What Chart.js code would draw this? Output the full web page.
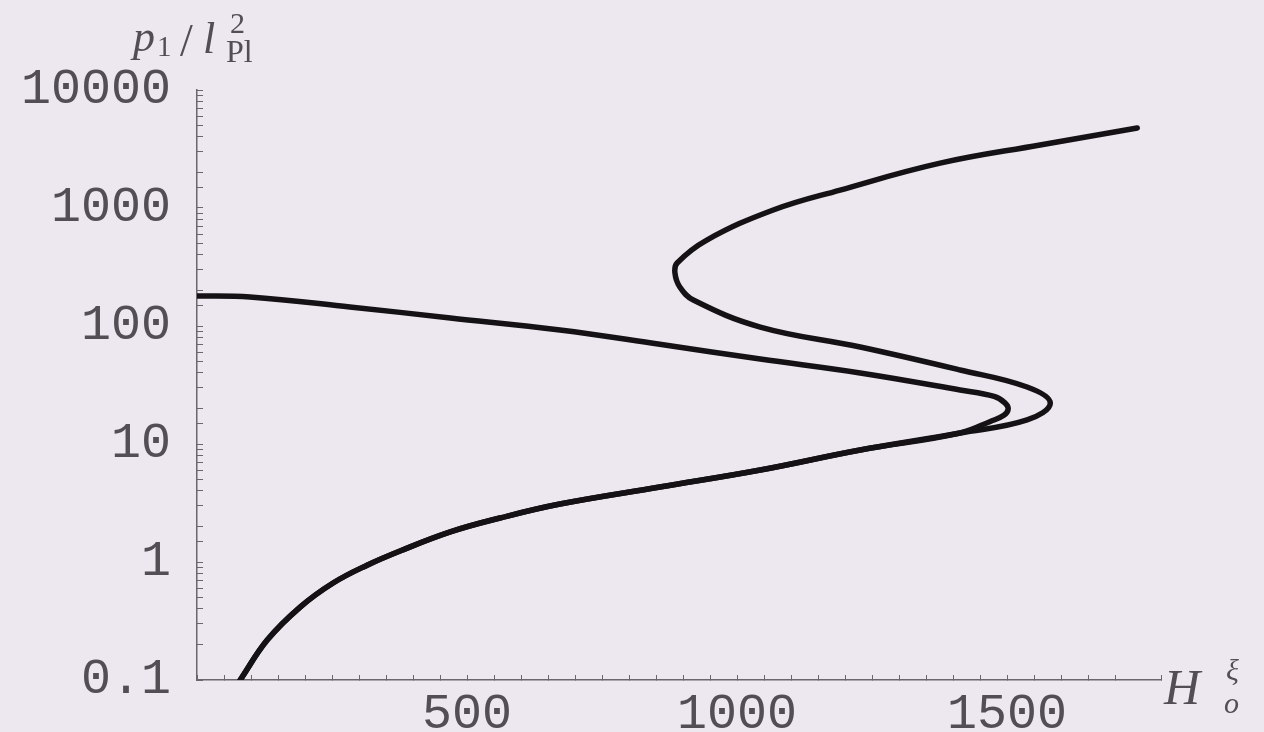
<!DOCTYPE html>
<html>
<head>
<meta charset="utf-8">
<script src="https://cdn.jsdelivr.net/npm/chart.js@4.4.1/dist/chart.umd.min.js"></script>
<style>
  html, body { margin: 0; padding: 0; background: #ede7f0; overflow: hidden; }
  #wrap { width: 1264px; height: 732px; }
  canvas { display: block; }
</style>
</head>
<body>
<div id="wrap"><canvas id="myChart" width="1264" height="732"></canvas></div>
<script>
// --- Data ---
// shared lower branch (both curves start here)
const lowerX = [80, 130, 191, 252, 315, 376, 469, 561, 672, 857, 1043, 1228, 1413];
const lowerY = [0.1, 0.218, 0.415, 0.664, 0.94, 1.24, 1.80, 2.36, 3.10, 4.32, 6.02, 8.9, 12.4];

// inner curve: turns near 1500 and runs back to the axis
const innerX = [1470, 1494, 1502, 1496, 1476, 1413, 1228, 1043, 857, 672, 469, 283, 98, 0];
const innerY = [15.6, 17.5, 19.8, 22.3, 25.3, 28.7, 40, 52.5, 70, 92.5, 117, 145, 176, 180];

// outer curve: turns near 1580, back to ~890, then out to the top right
const outerX = [1537, 1580, 1537, 1413, 1228, 1043, 919, 894, 885, 889, 944, 1067, 1191, 1376, 1561, 1741];
const outerY = [16.0, 22.2, 30.4, 42.4, 66.4, 98, 166, 214, 281, 342, 535, 962, 1420, 2400, 3420, 4760];

// tick labels
const xTickLabels = [500, 1000, 1500];
const yTickLabels = ['0.1', '1', '10', '100', '1000', '10000'];

function toPoints(xs, ys) {
    return xs.map((x, i) => ({ x: x, y: ys[i] }));
}

const innerData = toPoints(lowerX.concat(innerX), lowerY.concat(innerY));
const outerData = toPoints(lowerX.concat(outerX), lowerY.concat(outerY));

const textColor = '#524e54';
const axisColor = '#6a666c';
const tickFont = { family: '"Liberation Mono", monospace', size: 50 };

// axis titles drawn like the original (italic math symbols)
const axisTitles = {
    id: 'axisTitles',
    afterDraw(chart) {
        const c = chart.ctx;
        c.save();
        c.fillStyle = textColor;
        c.textBaseline = 'alphabetic';
        c.textAlign = 'left';
        // p1 / l^2_Pl
        c.font = 'italic 44px "Liberation Serif"';
        c.fillText('p', 133, 51);
        c.font = '29px "Liberation Serif"';
        c.fillText('1', 157, 56);
        c.font = '46px "Liberation Serif"';
        c.fillText('/', 180, 56);
        c.font = 'italic 44px "Liberation Serif"';
        c.fillText('l', 203, 53);
        c.font = '30px "Liberation Serif"';
        c.fillText('2', 230, 33);
        c.font = '32px "Liberation Serif"';
        c.fillText('Pl', 226, 62);
        // H_o^xi
        c.font = 'italic 50px "Liberation Serif"';
        c.fillText('H', 1164, 704);
        c.font = 'italic 30px "Liberation Serif"';
        c.fillText('ξ', 1226, 680);
        c.fillText('o', 1224, 713);
        c.restore();
    }
};

const ctx = document.getElementById('myChart').getContext('2d');

const lineStyle = {
    borderColor: '#141214',
    borderWidth: 5.5,
    pointRadius: 0,
    fill: false,
    tension: 0.4,
    borderCapStyle: 'round',
    borderJoinStyle: 'round'
};

const myChart = new Chart(ctx, {
    type: 'line',
    data: {
        datasets: [
            Object.assign({ label: 'inner', data: innerData }, lineStyle),
            Object.assign({ label: 'outer', data: outerData }, lineStyle)
        ]
    },
    options: {
        responsive: false,
        animation: false,
        layout: { padding: { left: 0, top: 90, right: 103, bottom: 0 } },
        scales: {
            x: {
                type: 'linear',
                min: 0,
                max: 1785,
                afterFit: (scale) => {
                    scale.height = 52;
                    scale.paddingLeft = 0;
                    scale.paddingRight = 0;
                },
                border: { color: axisColor, width: 1.5 },
                grid: { drawOnChartArea: false, tickLength: -5, color: axisColor, lineWidth: 1 },
                ticks: {
                    stepSize: 50,
                    autoSkip: false,
                    maxRotation: 0,
                    padding: 10,
                    color: textColor,
                    font: tickFont,
                    callback: (v) => xTickLabels.includes(v) ? String(v) : ''
                }
            },
            y: {
                type: 'logarithmic',
                min: 0.1,
                max: 10000,
                afterFit: (scale) => {
                    scale.width = 197;
                    scale.paddingTop = 0;
                    scale.paddingBottom = 0;
                },
                border: { color: axisColor, width: 1.5 },
                grid: { drawOnChartArea: false, tickLength: -6, color: axisColor, lineWidth: 1 },
                ticks: {
                    autoSkip: false,
                    padding: 32,
                    color: textColor,
                    font: tickFont,
                    callback: (v) => {
                        const s = String(Number(v.toPrecision(3)));
                        return yTickLabels.includes(s) ? s : '';
                    }
                }
            }
        },
        plugins: {
            legend: { display: false },
            tooltip: { enabled: false }
        }
    },
    plugins: [axisTitles]
});
</script>
</body>
</html>
